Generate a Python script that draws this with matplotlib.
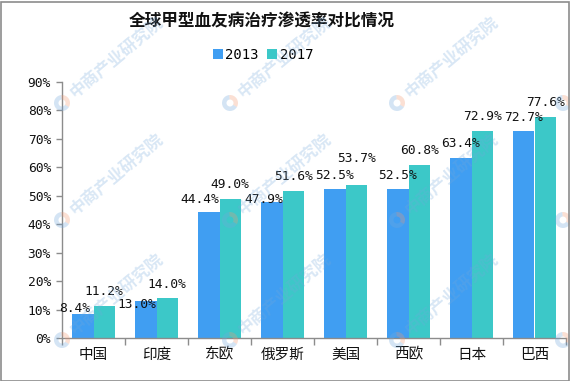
import matplotlib
matplotlib.use("Agg")
import matplotlib.pyplot as plt
from matplotlib.patches import Rectangle, Wedge
from matplotlib.transforms import IdentityTransform
import numpy as np

categories = ["中国", "印度", "东欧", "俄罗斯", "美国", "西欧", "日本", "巴西"]
series_names = ["2013", "2017"]
values_2013 = [8.4, 13.0, 44.4, 47.9, 52.5, 52.5, 63.4, 72.7]
values_2017 = [11.2, 14.0, 49.0, 51.6, 53.7, 60.8, 72.9, 77.6]
y_ticks = [0, 10, 20, 30, 40, 50, 60, 70, 80, 90]
title = "全球甲型血友病治疗渗透率对比情况"
watermark = "中商产业研究院"

# label offsets in pixels (style)
dx_2013 = [-8, -9.5, -9, -8, 0, 0, 0, 0]
dy_2013 = [2, -7, 9, -1, 10, 10, 11, 10.5]
dx_2017 = [0, 0, 0, 0, 0, 0, 0, 0]
dy_2017 = [11, 10.5, 10.5, 11, 23.5, 11, 11, 11.5]

c13 = "#409EF2"
c17 = "#3CC8C8"
cjk = ["Noto Sans CJK SC", "DejaVu Sans"]
mono = ["DejaVu Sans Mono"]

W, H = 570, 381
dpi = 100
fig = plt.figure(figsize=(W / dpi, H / dpi), dpi=dpi)
fig.patch.set_facecolor("white")

# border
fig.add_artist(Rectangle((0.5 / W, 0.5 / H), (W - 2) / W, (H - 2) / H,
                         transform=fig.transFigure, fill=False,
                         edgecolor="#8c8c8c", linewidth=1.2, zorder=20))

L, R, T, B = 62, 566, 82, 338
ax = fig.add_axes([L / W, (H - B) / H, (R - L) / W, (B - T) / H])

n = len(categories)
x = np.arange(n)
bw = 0.34
b1 = ax.bar(x - bw / 2, values_2013, bw, color=c13, label=series_names[0])
b2 = ax.bar(x + bw / 2, values_2017, bw, color=c17, label=series_names[1])

px = 72 / dpi
for i in range(n):
    ax.annotate(f"{values_2013[i]:.1f}%", (x[i] - bw / 2, values_2013[i]),
                xytext=(dx_2013[i] * px, (dy_2013[i] - 3) * px), textcoords="offset points",
                ha="center", va="bottom", fontsize=9.3, family=mono, color="#111111")
    ax.annotate(f"{values_2017[i]:.1f}%", (x[i] + bw / 2, values_2017[i]),
                xytext=(dx_2017[i] * px, (dy_2017[i] - 3) * px), textcoords="offset points",
                ha="center", va="bottom", fontsize=9.3, family=mono, color="#111111")

ax.set_xlim(-0.5, n - 0.5)
ax.set_ylim(0, 90)
ax.set_yticks(y_ticks)
ax.set_yticklabels([f"{t}%" for t in y_ticks], family=mono, fontsize=9.3)
ax.tick_params(axis="y", length=4, width=1, color="#8c8c8c", pad=4, labelcolor="#111111")

ax.set_xticks(x)
ax.set_xticklabels(categories, family=cjk, fontsize=10.5)
ax.tick_params(axis="x", length=0, pad=7, labelcolor="#111111")
ax.set_xticks(np.arange(n + 1) - 0.5, minor=True)
ax.tick_params(axis="x", which="minor", length=5, width=1, color="#8c8c8c")

for s in ["top", "right"]:
    ax.spines[s].set_visible(False)
for s in ["left", "bottom"]:
    ax.spines[s].set_color("#8c8c8c")
    ax.spines[s].set_linewidth(1)

fig.text(262 / W, 1 - 22 / H, title, ha="center", va="center",
         family=cjk, fontsize=12, fontweight="bold", color="#111111")

leg = fig.legend(handles=[b1, b2], labels=series_names, loc="center",
                 bbox_to_anchor=(263 / W, 1 - 55 / H), ncol=2, frameon=False,
                 prop={"family": "DejaVu Sans Mono", "size": 10},
                 handlelength=0.7, handleheight=0.7, handletextpad=0.2,
                 columnspacing=0.6, borderpad=0)

# watermarks (logo + rotated text), only where the text fits in the picture
wm_logo_x = [62, 230, 397, 563]
wm_logo_y = [103, 220, 340]
wm_color = (0.45, 0.66, 0.86)
for lx in wm_logo_x:
    for ly in wm_logo_y:
        for t1, t2, col in [(95, 330, wm_color), (330, 95, (0.95, 0.6, 0.45))]:
            wdg = Wedge((lx, H - ly), 8, t1, t2, width=4.5,
                        facecolor=col, alpha=0.3, edgecolor="none", zorder=15)
            wdg.set_transform(IdentityTransform())
            fig.add_artist(wdg)
        if lx < 500:
            fig.text((lx + 10) / W, 1 - (ly - 8) / H, watermark, rotation=40,
                     rotation_mode="anchor", ha="left", va="center",
                     family=cjk, fontsize=12, fontweight="bold",
                     color=wm_color, alpha=0.27, zorder=15)

fig.savefig("out.png", dpi=dpi, facecolor="white")
